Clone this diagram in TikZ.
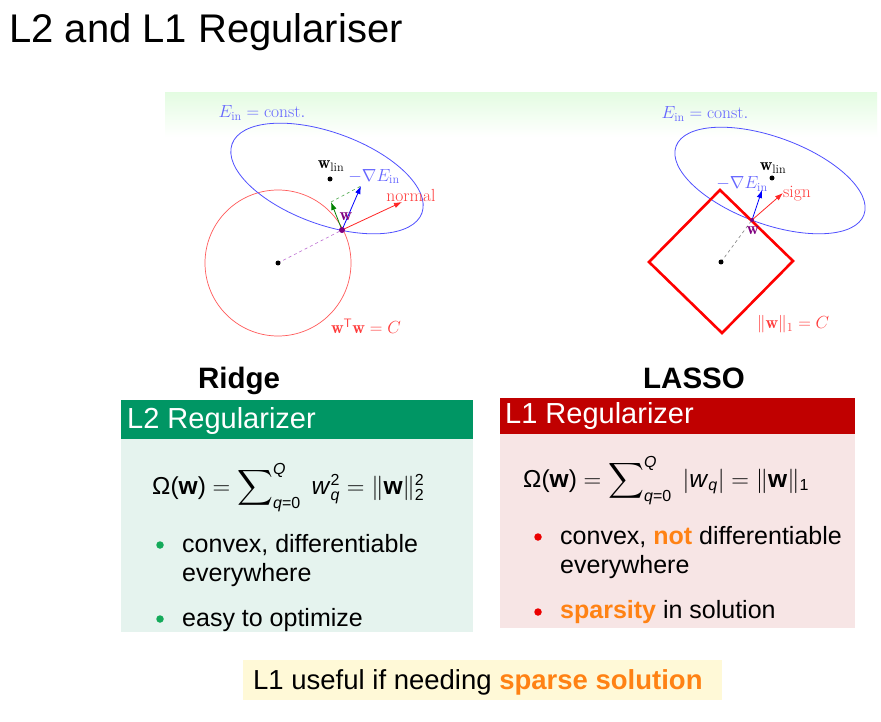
\RequirePackage{fix-cm}
\documentclass[tikz,border=0pt]{standalone}
\usepackage{amsmath}
\usepackage{fontspec}
\newfontfamily\arial{Liberation Sans}
\usetikzlibrary{arrows.meta}

\definecolor{bandgreen}{RGB}{228,252,226}
\definecolor{ellblue}{RGB}{80,80,255}
\definecolor{lblblue}{RGB}{100,100,255}
\definecolor{circred}{RGB}{255,90,90}
\definecolor{lblred}{RGB}{255,60,60}
\definecolor{wpurple}{RGB}{128,0,128}
\definecolor{dashpurple}{RGB}{190,110,210}
\definecolor{arrgreen}{RGB}{0,130,0}
\definecolor{hdgreen}{RGB}{0,150,100}
\definecolor{bdgreen}{RGB}{229,243,238}
\definecolor{hdred}{RGB}{192,0,0}
\definecolor{bdred}{RGB}{247,229,229}
\definecolor{hot}{RGB}{255,130,20}
\definecolor{dotgreen}{RGB}{20,170,90}
\definecolor{dotred}{RGB}{235,0,0}
\definecolor{notebg}{RGB}{255,249,215}

\newcommand\sm[1]{\mbox{\arial\fontsize{16}{16}\selectfont #1}}

\begin{document}
\begin{tikzpicture}[x=1pt,y=-1pt,
  lbl/.style={font=\fontsize{17.5}{20}\selectfont, inner sep=0pt},
  arr/.style={-{Latex[length=8pt,width=5.5pt]}, line width=0.8pt},
  pt/.style={circle, fill=black, inner sep=0pt, minimum size=5pt},
  hdtext/.style={anchor=base west, inner sep=0pt, text=white, font=\arial\fontsize{29}{34}\selectfont},
  bodytext/.style={anchor=base west, inner sep=0pt, align=left, font=\arial\fontsize{25}{28.5}\selectfont},
  formula/.style={anchor=base west, inner sep=0pt, font=\arial\fontsize{24.5}{28}\selectfont},
  caption/.style={anchor=base, inner sep=0pt, font=\arial\bfseries\fontsize{29.5}{34}\selectfont}]
\useasboundingbox (0,0) rectangle (881,722);
\fill[white] (0,0) rectangle (881,722);

% title
\node[anchor=base west, inner sep=0pt, font=\arial\fontsize{40}{46}\selectfont] (title) at (9,43) {L2 and L1 Regulariser};

% light green band behind the two sketches
\shade[top color=bandgreen, bottom color=white] (165,93) rectangle (877,137);

% ---------------- L2 sketch ----------------
\coordinate (O1) at (278,263);
\coordinate (W1) at (342,230);
\coordinate (L1) at (330,179);
\coordinate (G1) at (331,202);
\coordinate (B1) at (361,186);
\coordinate (N1) at (402,202);
\draw[circred, line width=0.7pt] (O1) circle (73);
\draw[ellblue, line width=0.8pt, rotate around={-20:(327,178.5)}] (327,178.5) ellipse (101 and 46);
\draw[dashpurple, dashed, line width=0.6pt] (O1) -- (W1);
\draw[arrgreen!70, dashed, line width=0.6pt] (G1) -- (B1);
\draw[arr, arrgreen] (W1) -- (G1);
\draw[arr, blue] (W1) -- (B1);
\draw[arr, red!85] (W1) -- (N1);
\node[pt] (o1) at (O1) {};
\node[pt] (l1) at (L1) {};
\node[pt, fill=wpurple, minimum size=6pt] (w1) at (W1) {};
\node[lbl, text=lblblue] (ein1) at (262,113) {$E_{\mathrm{in}} = \mathrm{const.}$};
\node[lbl] (wl1) at (331,166) {$\mathbf{w}_{\mathrm{lin}}$};
\node[lbl, text=lblblue] (gr1) at (374,176.5) {$-\nabla E_{\mathrm{in}}$};
\node[lbl, text=lblred] (nm1) at (411,195) {normal};
\node[lbl, text=wpurple] (wt1) at (346,217) {$\mathbf{w}$};
\node[lbl, text=lblred] (c1) at (366,326) {$\mathbf{w}^{\mathsf{T}}\mathbf{w} = C$};

% ---------------- L1 sketch ----------------
\coordinate (O2) at (721,262);
\coordinate (W2) at (752,220);
\coordinate (L2) at (772,178);
\coordinate (B2) at (762,190);
\coordinate (S2) at (783,193);
\coordinate (T2) at (720,190);
\coordinate (R2) at (793,261);
\coordinate (D2) at (722,333);
\coordinate (F2) at (649,262);
\draw[ellblue, line width=0.8pt, rotate around={-20:(770,180.5)}] (770,180.5) ellipse (100 and 43.5);
\draw[red, line width=2.6pt, line join=miter] (T2) -- (R2) -- (D2) -- (F2) -- cycle;
\draw[gray, dashed, line width=0.6pt] (O2) -- (W2);
\draw[arr, blue] (W2) -- (B2);
\draw[arr, red!85] (W2) -- (S2);
\node[pt] (o2) at (O2) {};
\node[pt] (l2) at (L2) {};
\node[pt, fill=wpurple, minimum size=4pt] (w2) at (W2) {};
\node[lbl, text=lblblue] (ein2) at (705,114) {$E_{\mathrm{in}} = \mathrm{const.}$};
\node[lbl] (wl2) at (773,168) {$\mathbf{w}_{\mathrm{lin}}$};
\node[lbl, text=lblblue] (gr2) at (742,184) {$-\nabla E_{\mathrm{in}}$};
\node[lbl, text=lblred] (sg2) at (797,194) {sign};
\node[lbl, text=wpurple] (wt2) at (753,231) {$\mathbf{w}$};
\node[lbl, text=lblred] (c2) at (793,324) {$\|\mathbf{w}\|_1 = C$};

% captions
\node[caption] (ridge) at (239,388) {Ridge};
\node[caption] (lasso) at (694,388) {LASSO};

% ---------------- L2 block ----------------
\fill[bdgreen] (121,439) rectangle (473,632);
\fill[hdgreen] (121,400) rectangle (473,439);
\node[hdtext] (h2) at (127,428) {L2 Regularizer};
\node[formula] (f2) at (152,494) {Ω(\textbf{w}) $=\displaystyle\sum\nolimits_{\sm{\itshape q\upshape =0}}^{\sm{\itshape Q}}$\, \textit{w}$_{\sm{\itshape q}}^{\sm{2}}$ $=\|$\textbf{w}$\|_{\sm{2}}^{\sm{2}}$};
\node[circle, fill=dotgreen, inner sep=0pt, minimum size=7.5pt] (d21) at (160,545) {};
\node[bodytext] (t21) at (182,581) {convex, differentiable\\everywhere};
\node[circle, fill=dotgreen, inner sep=0pt, minimum size=7.5pt] (d22) at (160,619) {};
\node[bodytext] (t22) at (182,626) {easy to optimize};

% ---------------- L1 block ----------------
\fill[bdred] (500,434) rectangle (855,628);
\fill[hdred] (500,398) rectangle (855,434);
\node[hdtext] (h1) at (505,423) {L1 Regularizer};
\node[formula] (f1) at (523,487) {Ω(\textbf{w}) $=\displaystyle\sum\nolimits_{\sm{\itshape q\upshape =0}}^{\sm{\itshape Q}}$\, $|$\textit{w}$_{\sm{\itshape q}}|$ $=\|$\textbf{w}$\|_{\sm{1}}$};
\node[circle, fill=dotred, inner sep=0pt, minimum size=7.5pt] (d11) at (538,537) {};
\node[bodytext] (t11) at (560,573) {convex, {\bfseries\color{hot}not} differentiable\\everywhere};
\node[circle, fill=dotred, inner sep=0pt, minimum size=7.5pt] (d12) at (538,612) {};
\node[bodytext] (t12) at (560,618) {{\bfseries\color{hot}sparsity} in solution};

% closing note
\fill[notebg] (243,660) rectangle (722,700);
\node[anchor=base west, inner sep=0pt, font=\arial\fontsize{27.5}{30}\selectfont] (note) at (253,689) {L1 useful if needing {\bfseries\color{hot}sparse solution}};
\end{tikzpicture}
\end{document}
